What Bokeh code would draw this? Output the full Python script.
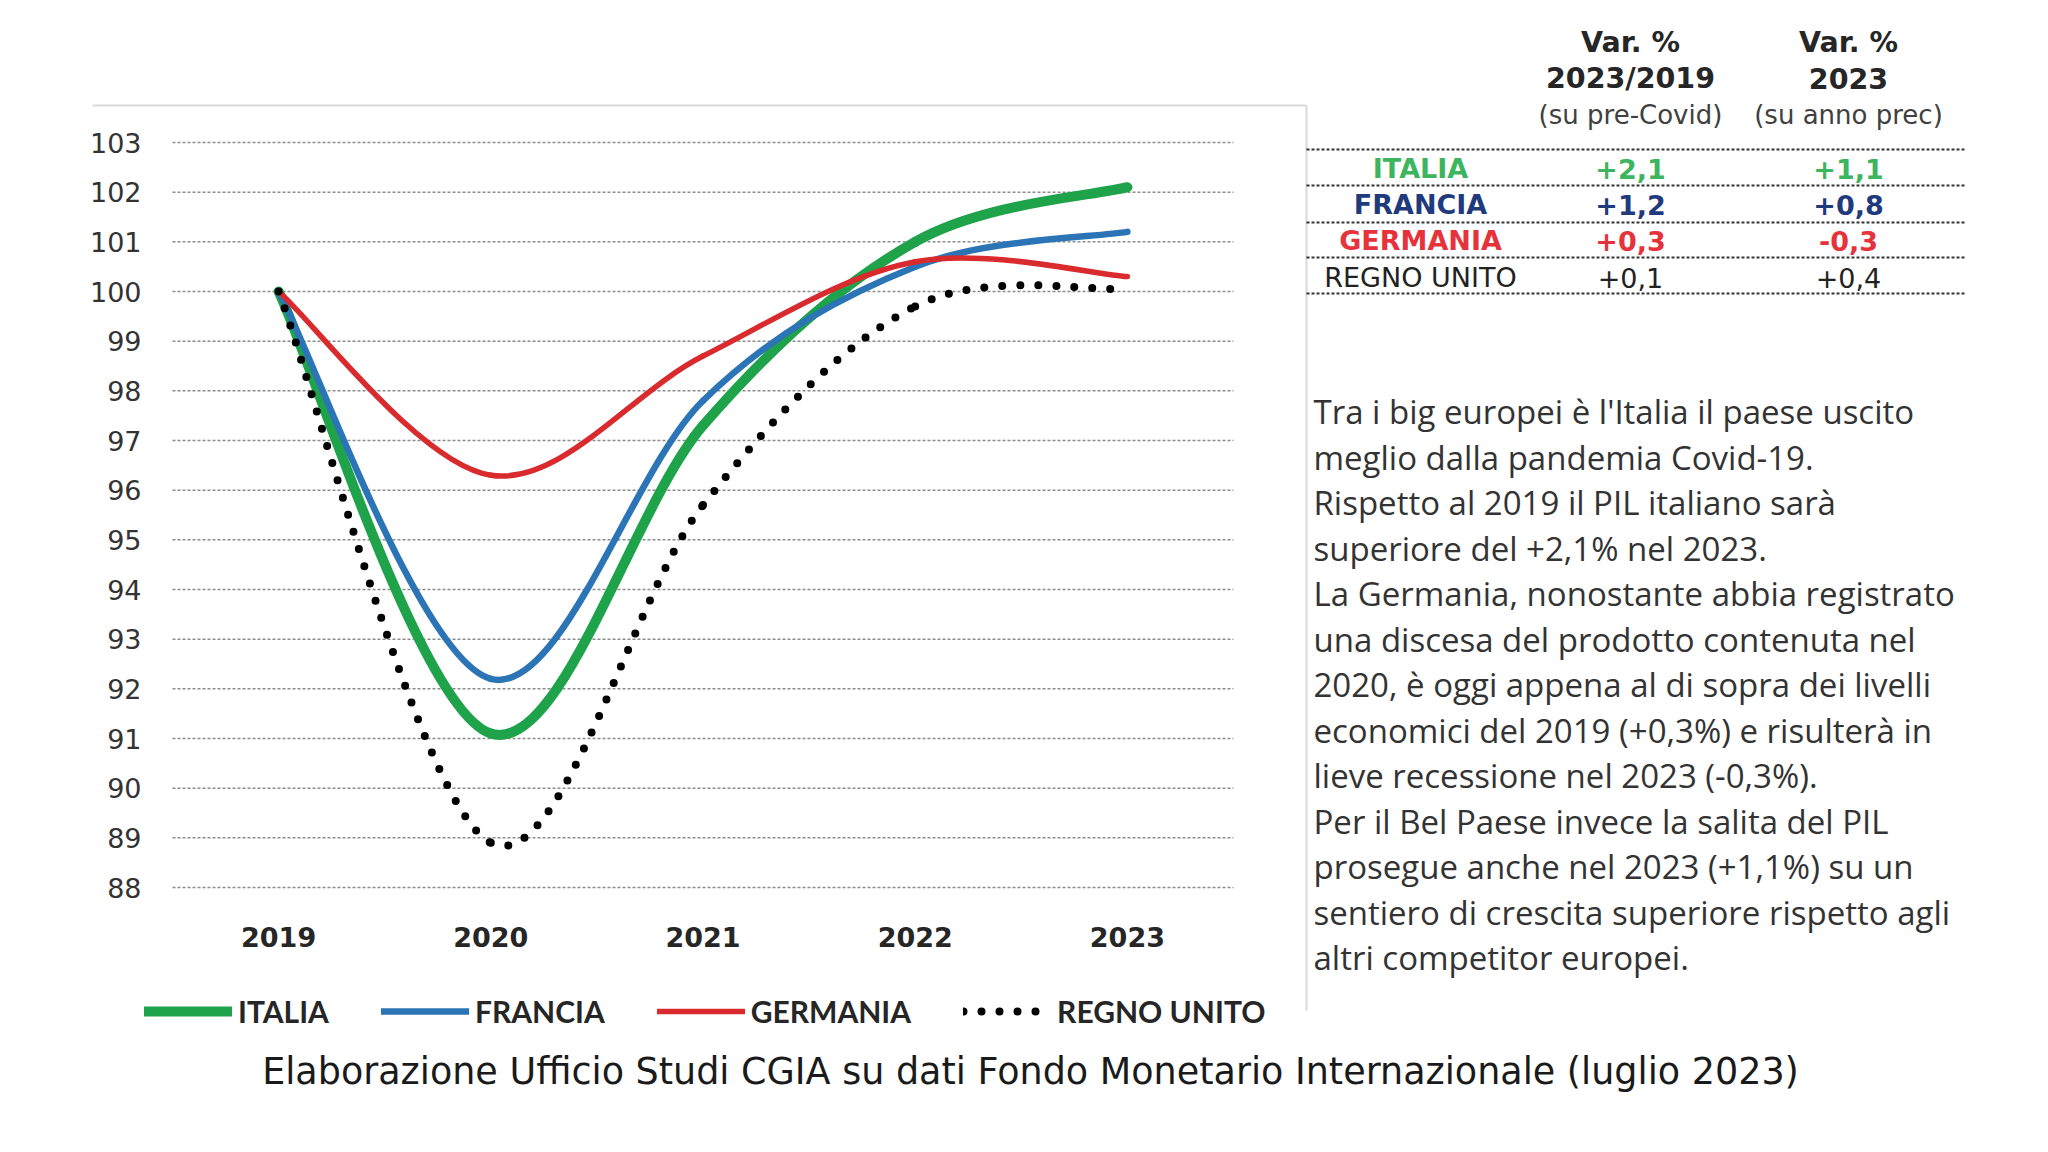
from bokeh.plotting import figure
from bokeh.models import Range1d, Legend, LegendItem, ColumnDataSource
from bokeh.embed import file_html
from bokeh.resources import INLINE
from bokeh.core.properties import value

# ---------------- data ----------------
years = [2019, 2020, 2021, 2022, 2023]
italia = [100.0, 91.1, 97.3, 101.0, 102.1]
francia = [100.0, 92.2, 97.8, 100.5, 101.2]
germania = [100.0, 96.3, 98.7, 100.6, 100.3]
regno_unito = [100.0, 88.9, 95.7, 99.7, 100.05]
y_ticks = list(range(88, 104))

series_names = ["ITALIA", "FRANCIA", "GERMANIA", "REGNO UNITO"]
var_2023_2019 = ["+2,1", "+1,2", "+0,3", "+0,1"]
var_2023 = ["+1,1", "+0,8", "-0,3", "+0,4"]
header_col1 = ["Var. %", "2023/2019", "(su pre-Covid)"]
header_col2 = ["Var. %", "2023", "(su anno prec)"]

paragraph = [
    "Tra i big europei è l'Italia il paese uscito",
    "meglio dalla pandemia Covid-19.",
    "Rispetto al 2019 il PIL italiano sarà",
    "superiore del +2,1% nel 2023.",
    "La Germania, nonostante abbia registrato",
    "una discesa del prodotto contenuta nel",
    "2020, è oggi appena al di sopra dei livelli",
    "economici del 2019 (+0,3%) e risulterà in",
    "lieve recessione nel 2023 (-0,3%).",
    "Per il Bel Paese invece la salita del PIL",
    "prosegue anche nel 2023 (+1,1%) su un",
    "sentiero di crescita superiore rispetto agli",
    "altri competitor europei.",
]
footer = "Elaborazione Ufficio Studi CGIA su dati Fondo Monetario Internazionale (luglio 2023)"

# ---------------- styles / geometry ----------------
line_colors = ["#1fa34a", "#2b74b5", "#d92a2e", "#000000"]
line_widths = [10, 6.5, 5.5, 8]
table_colors = ["#3db45e", "#1f3b7d", "#e5323b", "#222222"]
table_styles = ["bold", "bold", "bold", "normal"]

W, H = 2032, 1136
CL, CR, CT, CB = 172, 1233, 142, 887      # chart plot area inside the canvas (pixels)
X0, X1 = years[0] - 0.5, years[-1] + 0.5   # category bands
Y0, Y1 = y_ticks[0], y_ticks[-1]
ppx = (CR - CL) / (X1 - X0)
ppy = (CB - CT) / (Y1 - Y0)


def smooth_segments(xs, ys):
    """Bezier control points (Excel-like smoothing) computed from the data."""
    n = len(xs)
    seg = dict(x0=[], y0=[], x1=[], y1=[], cx0=[], cy0=[], cx1=[], cy1=[])
    for i in range(n - 1):
        a = max(i - 1, 0)
        b = min(i + 2, n - 1)
        seg["x0"].append(xs[i]); seg["y0"].append(ys[i])
        seg["x1"].append(xs[i + 1]); seg["y1"].append(ys[i + 1])
        seg["cx0"].append(xs[i] + (xs[i + 1] - xs[a]) / 6.0)
        seg["cy0"].append(ys[i] + (ys[i + 1] - ys[a]) / 6.0)
        seg["cx1"].append(xs[i + 1] - (xs[b] - xs[i]) / 6.0)
        seg["cy1"].append(ys[i + 1] - (ys[b] - ys[i]) / 6.0)
    return ColumnDataSource(seg)


p = figure(width=W, height=H,
           x_range=Range1d(X0 - CL / ppx, X1 + (W - CR) / ppx),
           y_range=Range1d(Y0 - (H - CB) / ppy, Y1 + CT / ppy),
           output_backend="svg", toolbar_location=None, x_axis_type=None, y_axis_type=None,
           min_border=0, min_border_left=0, min_border_right=0, min_border_top=0, min_border_bottom=0,
           background_fill_color="white", border_fill_color="white")
p.outline_line_color = None
p.grid.visible = False
p.extra_x_ranges = {"px": Range1d(0, W)}
p.extra_y_ranges = {"px": Range1d(H, 0)}

# ---- chart: grid, tick labels ----
p.segment(x0=[X0] * len(y_ticks), x1=[X1] * len(y_ticks), y0=y_ticks, y1=y_ticks,
          line_color="#8c8c8c", line_width=1.5, line_dash="3 2")
p.text(x=[X0] * len(y_ticks), y=y_ticks, text=[str(t) for t in y_ticks], x_offset=-31,
       text_align="right", text_baseline="middle", text_font=value("DejaVu Sans"),
       text_font_size="27px", text_color="#333333")
p.text(x=years, y=[Y0] * len(years), text=[str(t) for t in years], y_offset=49,
       text_align="center", text_baseline="middle", text_font=value("DejaVu Sans"),
       text_font_size="27px", text_font_style="bold", text_color="#262626")

# ---- chart: smoothed lines ----
all_series = [italia, francia, germania, regno_unito]
renderers = []
for vals, col, lw, name in zip(all_series, line_colors, line_widths, series_names):
    src = smooth_segments(years, vals)
    kw = dict(line_color=col, line_width=lw, line_cap="round")
    if name == "REGNO UNITO":
        kw["line_dash"] = "0 18"
    r = p.bezier(x0="x0", y0="y0", x1="x1", y1="y1", cx0="cx0", cy0="cy0",
                 cx1="cx1", cy1="cy1", source=src, **kw)
    renderers.append(r)

legend = Legend(items=[LegendItem(label=n, renderers=[r]) for n, r in zip(series_names, renderers)],
                orientation="horizontal", location=(144, H - 1029),
                glyph_width=88, glyph_height=30, label_standoff=6, spacing=52,
                label_text_font="Lato", label_text_font_style="bold",
                label_text_font_size="30px", label_text_color="#262626",
                border_line_color=None, background_fill_alpha=0, padding=0, margin=0)
p.add_layout(legend, "center")

# ---- side panel, in canvas pixels ----
PX = dict(x_range_name="px", y_range_name="px")

# chart box border (light grey)
p.segment(x0=[92, 1306], y0=[105, 105], x1=[1306, 1306], y1=[105, 1010],
          line_color="#d9d9d9", line_width=2, **PX)

hdr_y = [42, 78, 114]
hdr_styles = ["bold", "bold", "normal"]
hdr_sizes = ["28.5px", "28.5px", "26px"]
hdr_colors = ["#262626", "#262626", "#404040"]
for xc, hdr in ((1630, header_col1), (1848, header_col2)):
    for t, yy, st, sz, cc in zip(hdr, hdr_y, hdr_styles, hdr_sizes, hdr_colors):
        p.text(x=[xc], y=[yy], text=[t], text_align="center", text_baseline="middle",
               text_font=value("DejaVu Sans"), text_font_style=st, text_font_size=sz,
               text_color=cc, **PX)

sep_y = [149, 185, 222, 257, 293]
p.segment(x0=[1306] * len(sep_y), y0=sep_y, x1=[1966] * len(sep_y), y1=sep_y,
          line_color="#333333", line_width=2, line_dash="3 2", **PX)

row_y = [168, 204, 240, 277]
for name, v1, v2, yy, cc, st in zip(series_names, var_2023_2019, var_2023, row_y, table_colors, table_styles):
    for xc, t in ((1420, name), (1630, v1), (1848, v2)):
        p.text(x=[xc], y=[yy], text=[t], text_align="center", text_baseline="middle",
               text_font=value("DejaVu Sans"), text_font_style=st, text_font_size="27px",
               text_color=cc, **PX)

par_y = [411 + 45.5 * i for i in range(len(paragraph))]
p.text(x=[1313] * len(paragraph), y=par_y, text=paragraph, text_align="left", text_baseline="middle",
       text_font=value("Open Sans"), text_font_size="33px", text_color="#333333", **PX)

p.text(x=[1030], y=[1071], text=[footer], text_align="center", text_baseline="middle",
       text_font=value("DejaVu Sans"), text_font_size="36.5px", text_color="#1a1a1a", **PX)

open("out.html", "w").write(file_html(p, INLINE))
